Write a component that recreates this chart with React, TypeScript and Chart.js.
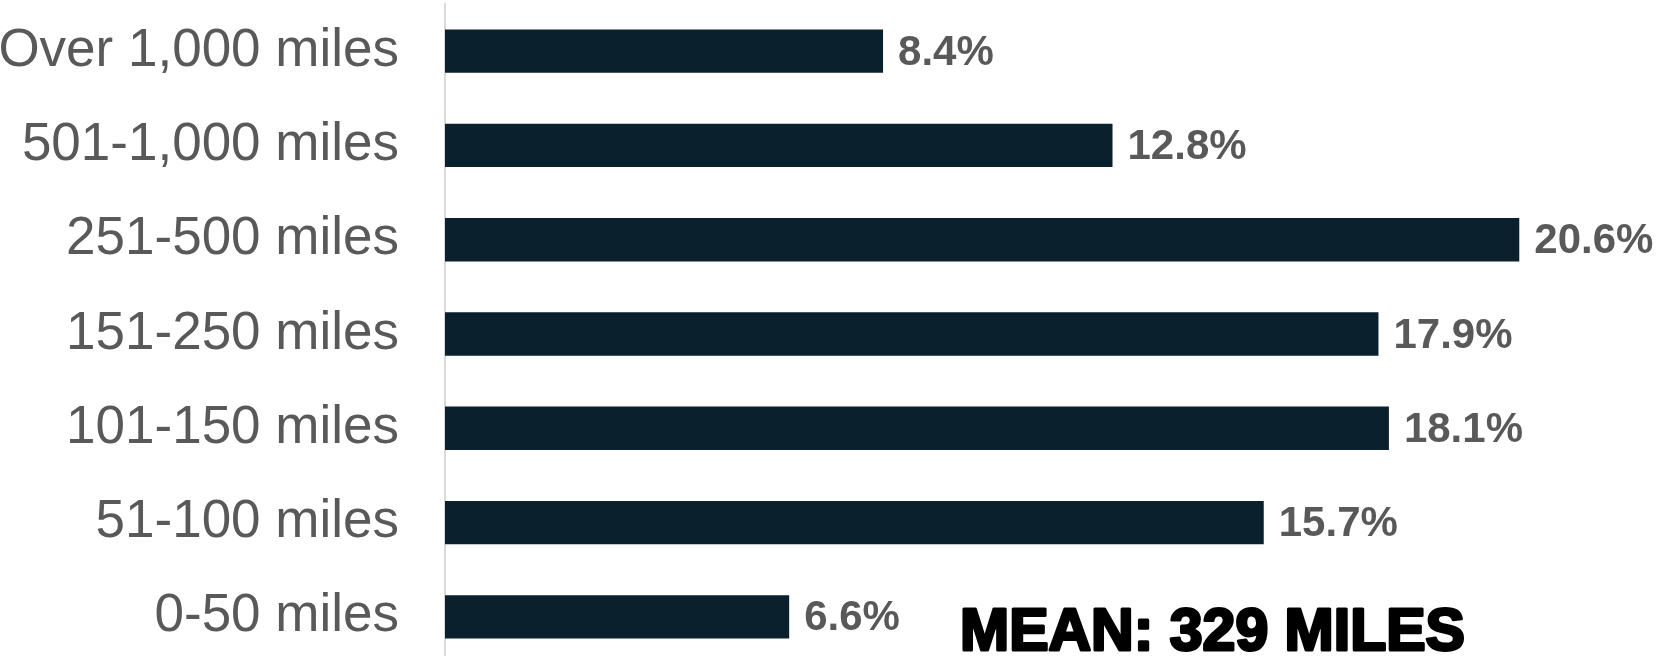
import React, { useEffect, useRef } from "react";
import { Chart, registerables } from "chart.js";

Chart.register(...registerables);

const categories = [
  "Over 1,000 miles",
  "501-1,000 miles",
  "251-500 miles",
  "151-250 miles",
  "101-150 miles",
  "51-100 miles",
  "0-50 miles",
];
const shares = [8.4, 12.8, 20.6, 17.9, 18.1, 15.7, 6.6];
const valueLabels = ["8.4%", "12.8%", "20.6%", "17.9%", "18.1%", "15.7%", "6.6%"];
const annotation = "MEAN: 329 MILES";

const W = 1658;
const H = 664;

export default function App() {
  const ref = useRef<HTMLCanvasElement | null>(null);

  useEffect(() => {
    if (!ref.current) return;
    const labelPlugin = {
      id: "valueLabels",
      afterDatasetsDraw(chart: any) {
        const ctx = chart.ctx;
        const meta = chart.getDatasetMeta(0);
        ctx.save();
        ctx.font = "bold 42px 'Liberation Sans', Arial, sans-serif";
        ctx.fillStyle = "#595959";
        ctx.textAlign = "left";
        ctx.textBaseline = "middle";
        meta.data.forEach((bar: any, i: number) => {
          ctx.fillText(valueLabels[i], bar.x + 15, bar.y + 2);
        });
        ctx.font = "bold 59px 'Liberation Sans', Arial, sans-serif";
        ctx.fillStyle = "#000000";
        ctx.strokeStyle = "#000000";
        ctx.lineWidth = 3;
        ctx.lineJoin = "round";
        ctx.textBaseline = "alphabetic";
        ctx.strokeText(annotation, 960, 650);
        ctx.fillText(annotation, 960, 650);
        ctx.restore();
      },
    };

    const chart = new Chart(ref.current, {
      type: "bar",
      data: {
        labels: categories,
        datasets: [
          {
            data: shares,
            backgroundColor: "#0b202d",
            borderWidth: 0,
            categoryPercentage: 1,
            barPercentage: 0.46,
          },
        ],
      },
      options: {
        indexAxis: "y",
        responsive: false,
        animation: false,
        layout: { padding: { top: 4, right: 0, bottom: 0, left: 0 } },
        plugins: {
          legend: { display: false },
          tooltip: { enabled: false },
        },
        scales: {
          x: {
            display: false,
            min: 0,
            max: 23.26,
          },
          y: {
            afterFit(scale: any) {
              scale.width = 445;
              scale.paddingTop = 0;
              scale.paddingBottom = 0;
            },
            grid: { display: false, drawTicks: false },
            border: { display: true, color: "#d9d9d9", width: 2 },
            ticks: {
              color: "#595959",
              padding: 46,
              font: { family: "'Liberation Sans', Arial, sans-serif", size: 53 },
            },
          },
        },
      },
      plugins: [labelPlugin],
    });
    return () => chart.destroy();
  }, []);

  return (
    <div
      style={{
        position: "absolute",
        left: 0,
        top: 0,
        width: W,
        height: 656,
        overflow: "hidden",
        background: "#ffffff",
      }}
    >
      <canvas ref={ref} width={W} height={H} style={{ width: W, height: H, display: "block" }} />
    </div>
  );
}
